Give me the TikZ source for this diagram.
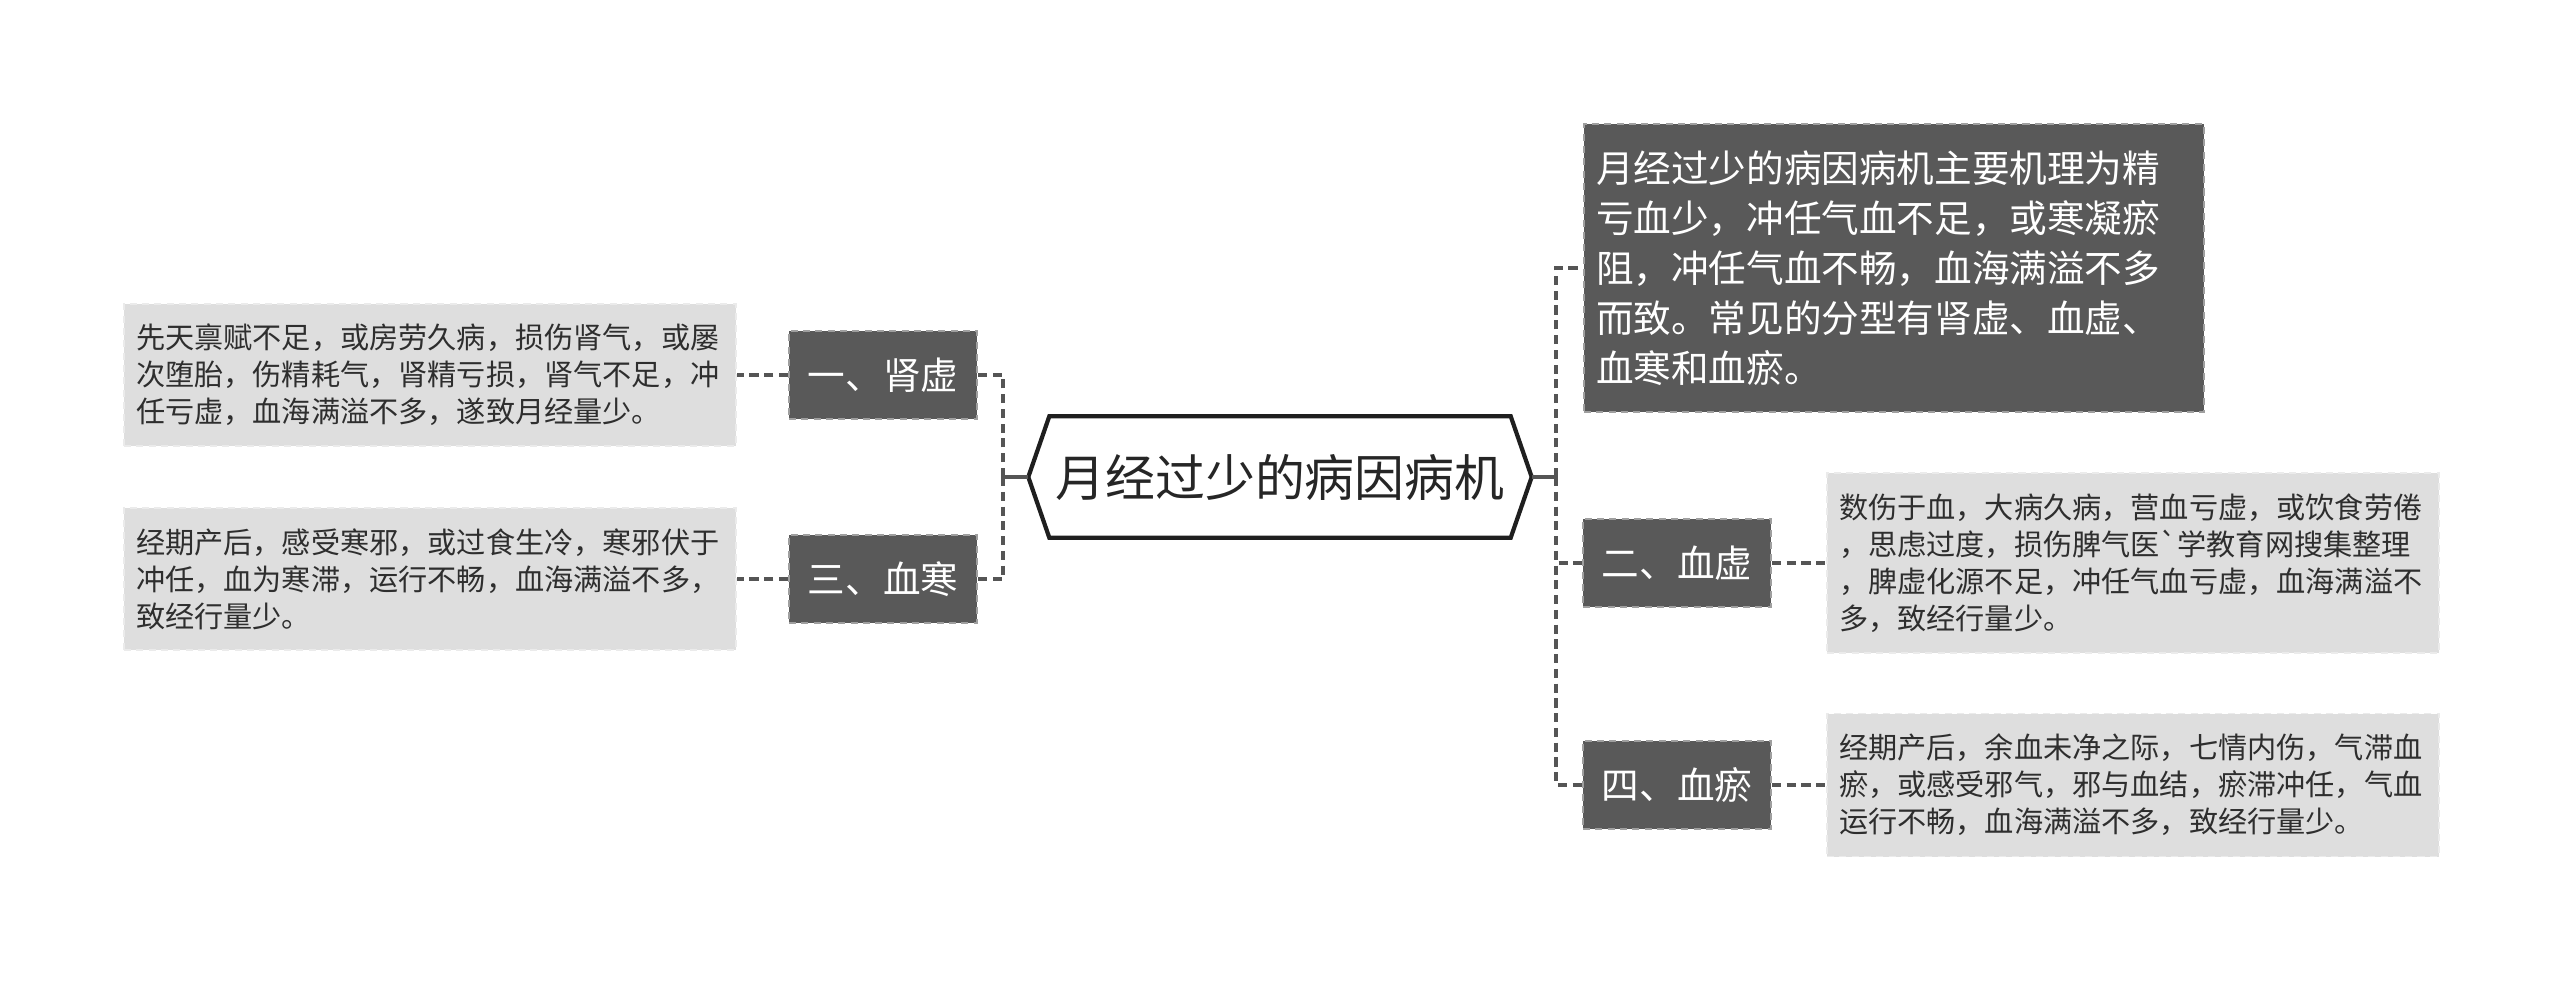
\documentclass[tikz,border=0pt]{standalone}
\usepackage{fontspec}
\setmainfont{Noto Sans CJK SC}[Ligatures=TeXOff]
\usetikzlibrary{positioning, calc}

\definecolor{darkfill}{HTML}{595959}
\definecolor{lightfill}{HTML}{DEDEDE}
\definecolor{linkcol}{HTML}{555555}
\definecolor{textcol}{HTML}{2E2E2E}

\tikzset{
  topic/.style={fill=darkfill, draw=gray!75, line width=0.5pt, dash pattern=on 2pt off 1.5pt,
    text=white, font=\fontsize{10.7pt}{14.2pt}\selectfont,
    minimum width=1.88cm, minimum height=0.88cm, inner sep=0pt},
  summary/.style={topic, text width=5.96cm, inner xsep=0.12cm, align=left},
  note/.style={fill=lightfill, draw=white!92!black, line width=0.5pt, dash pattern=on 2pt off 1.5pt,
    text=textcol, font=\fontsize{8.3pt}{10.5pt}\selectfont,
    text width=5.88cm, inner xsep=0.12cm, inner ysep=0pt, align=left},
  link/.style={draw=linkcol, line width=1.1pt, dash pattern=on 2.6pt off 1.6pt},
  stem/.style={draw=linkcol, line width=1.1pt}
}

\begin{document}
\begin{tikzpicture}
  \useasboundingbox (0,0) rectangle (25.6,9.81);

  % centre
  \node[minimum width=5.02cm, minimum height=1.2cm, inner sep=0pt, text=black!85,
    font=\fontsize{14.2pt}{17pt}\selectfont] (root) at (12.8,5.04) {月经过少的病因病机};
  \draw[line width=1.2pt, draw=black!88] (root.west) -- ([xshift=0.21cm]root.north west)
    -- ([xshift=-0.21cm]root.north east) -- (root.east)
    -- ([xshift=-0.21cm]root.south east) -- ([xshift=0.21cm]root.south west) -- cycle;
  \coordinate (lsplit) at (10.03,5.04);
  \coordinate (rsplit) at (15.56,5.04);

  % left side
  \node[topic] (shenxu) at (8.83,6.06) {一、肾虚};
  \node[topic] (xuehan) at (8.83,4.02) {三、血寒};
  \node[note, minimum height=1.42cm] (shenxunote) at (4.30,6.06)
    {先天禀赋不足，或房劳久病，损伤肾气，或屡\\次堕胎，伤精耗气，肾精亏损，肾气不足，冲\\任亏虚，血海满溢不多，遂致月经量少。};
  \node[note, minimum height=1.42cm] (xuehannote) at (4.30,4.02)
    {经期产后，感受寒邪，或过食生冷，寒邪伏于\\冲任，血为寒滞，运行不畅，血海满溢不多，\\致经行量少。};

  % right side
  \node[summary, minimum height=2.88cm] (jili) at (18.94,7.13)
    {月经过少的病因病机主要机理为精\\亏血少，冲任气血不足，或寒凝瘀\\阻，冲任气血不畅，血海满溢不多\\而致。常见的分型有肾虚、血虚、\\血寒和血瘀。};
  \node[topic] (xuexu) at (16.77,4.18) {二、血虚};
  \node[topic] (xueyu) at (16.77,1.96) {四、血瘀};
  \node[note, minimum height=1.80cm] (xuexunote) at (21.33,4.18)
    {数伤于血，大病久病，营血亏虚，或饮食劳倦\\，思虑过度，损伤脾气医`学教育网搜集整理\\，脾虚化源不足，冲任气血亏虚，血海满溢不\\多，致经行量少。};
  \node[note, minimum height=1.43cm] (xueyunote) at (21.33,1.96)
    {经期产后，余血未净之际，七情内伤，气滞血\\瘀，或感受邪气，邪与血结，瘀滞冲任，气血\\运行不畅，血海满溢不多，致经行量少。};

  % connectors
  \draw[stem] (root.west) -- (lsplit);
  \draw[stem] (root.east) -- (rsplit);
  \draw[link] (lsplit) |- (shenxu.east);
  \draw[link] (lsplit) |- (xuehan.east);
  \draw[link] (rsplit) |- (jili.west);
  \draw[link] (rsplit) |- (xuexu.west);
  \draw[link] (rsplit) |- (xueyu.west);
  \draw[link] (shenxu) -- (shenxunote);
  \draw[link] (xuehan) -- (xuehannote);
  \draw[link] (xuexu) -- (xuexunote);
  \draw[link] (xueyu) -- (xueyunote);
\end{tikzpicture}
\end{document}
